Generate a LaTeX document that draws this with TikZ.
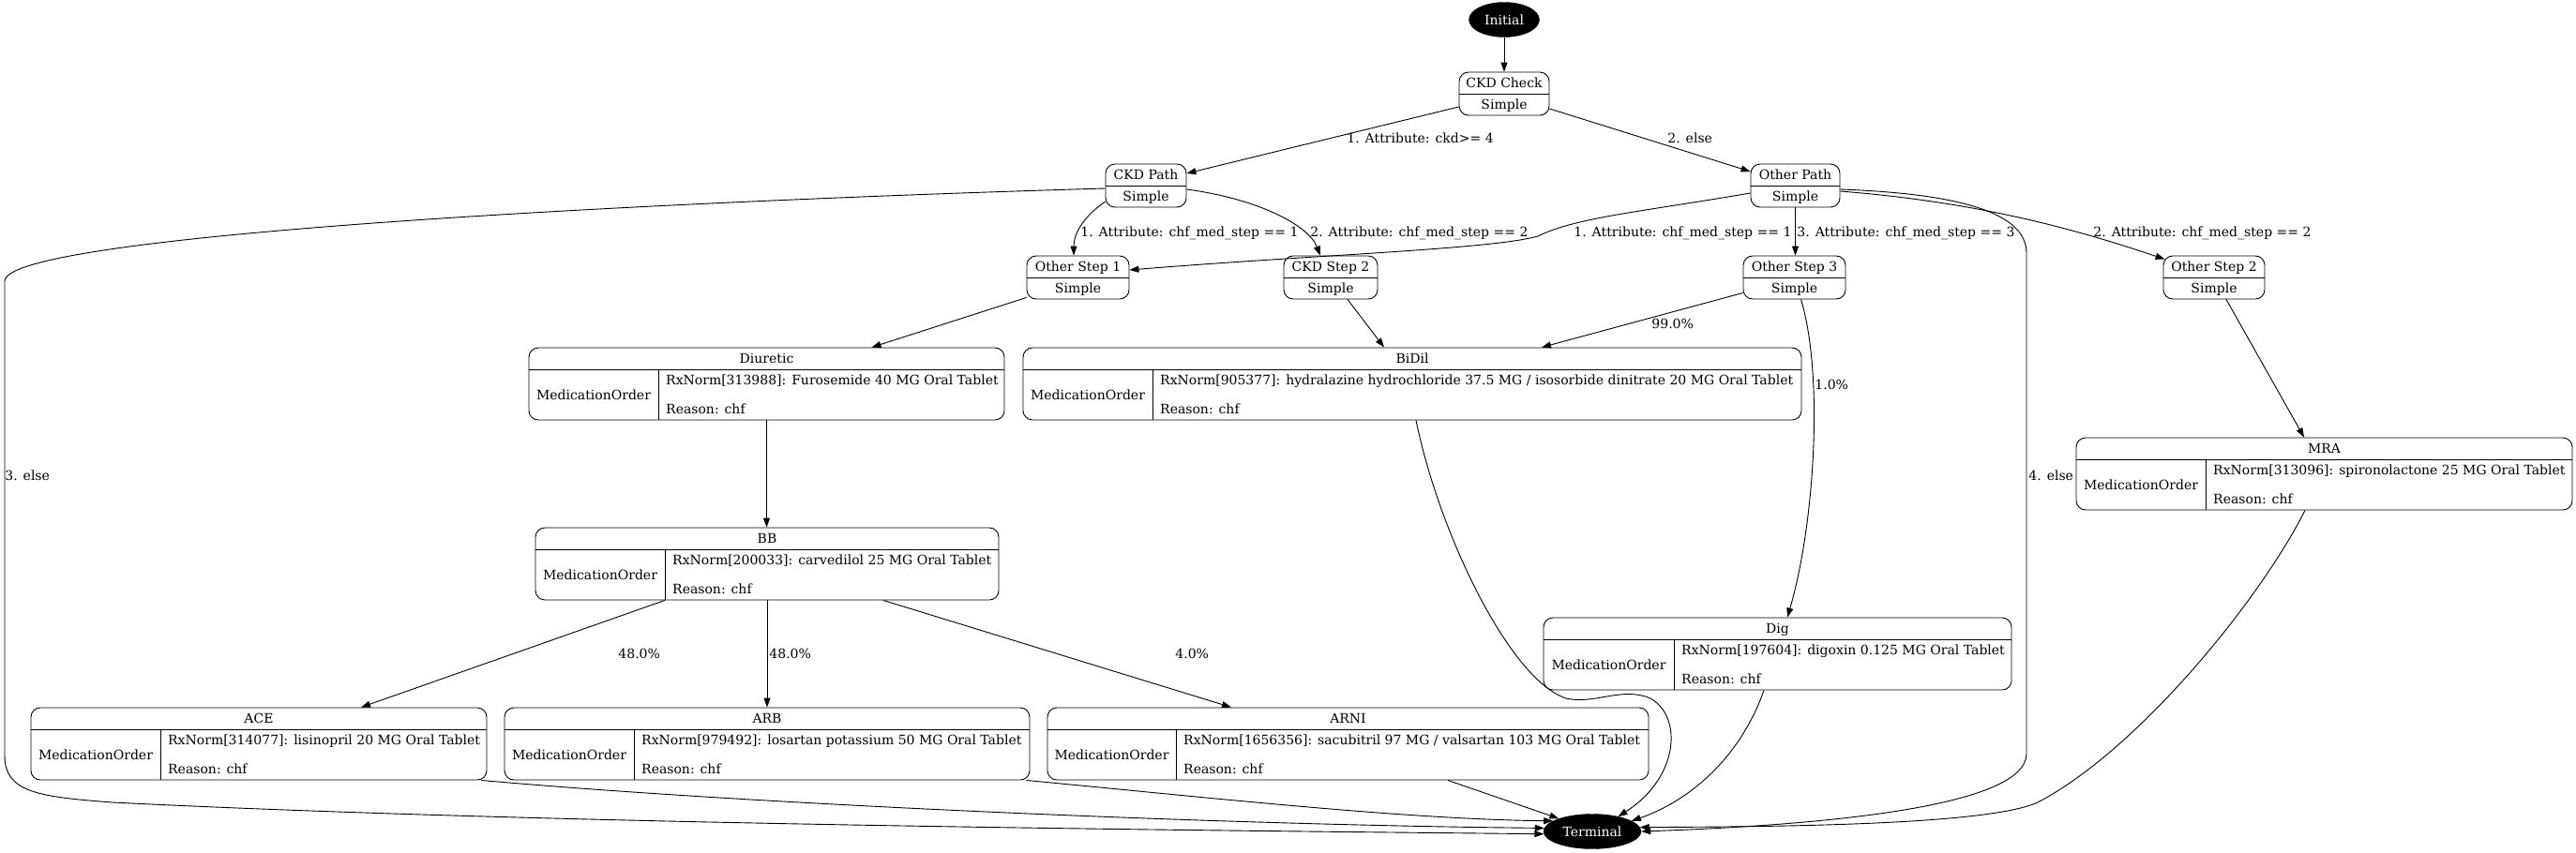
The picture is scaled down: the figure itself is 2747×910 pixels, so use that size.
\documentclass[tikz,border=0pt]{standalone}
\usepackage{fontspec}
\setmainfont{DejaVu Serif}
\usepackage{tikz}
\usetikzlibrary{arrows.meta,shapes.geometric}

% state with a "Simple" compartment
\newcommand{\simplestate}[6]{%
  \node[stbox, minimum width={#4-#2}, minimum height={#5-#3}] (#1) at ({(#2+#4)/2},{(#3+#5)/2}) {};
  \draw[line width=0.9pt] (#2,#3+23) -- (#4,#3+23);
  \node[txt] (#1-title) at ({(#2+#4)/2},#3+11.5) {#6};
  \node[txt] (#1-kind) at ({(#2+#4)/2},#3+34.5) {Simple};
}
% state with a MedicationOrder record
\newcommand{\medstate}[8]{%
  \node[stbox, minimum width={#4-#2}, minimum height={#5-#3}] (#1) at ({(#2+#4)/2},{(#3+#5)/2}) {};
  \draw[line width=0.9pt] (#2,#3+23) -- (#4,#3+23) (#6,#3+23) -- (#6,#5);
  \node[txt] (#1-title) at ({(#2+#4)/2},#3+11.5) {#7};
  \node[txt] (#1-type) at ({(#2+#6)/2},{(#3+23+#5)/2}) {MedicationOrder};
  \node[txt, anchor=west] (#1-code) at (#6+8,#3+34) {#8};
  \node[txt, anchor=west] (#1-reason) at (#6+8,#5-12) {Reason: chf};
}

\begin{document}
\begin{tikzpicture}[x=1pt, y=-1pt]
\tikzstyle{txt}=[inner sep=0pt, text height=10pt, text depth=0pt, font=\fontsize{14}{17}\selectfont]
\tikzstyle{stbox}=[draw, line width=0.9pt, rectangle, rounded corners=10pt, inner sep=0pt]
\tikzstyle{endpt}=[txt, draw, fill=black, ellipse, text=white]
\tikzstyle{flow}=[-{Triangle[length=10pt,width=7pt]}, line width=0.9pt]
\tikzstyle{lbl}=[txt, anchor=west]
\useasboundingbox (0,0) rectangle (2747,910);
% start and end
\node[endpt, minimum width=75pt, minimum height=37pt] (init) at (1604,21) {Initial};
\node[endpt, minimum width=104pt, minimum height=37pt] (term) at (1698,887) {Terminal};
% decision states
\simplestate{ckdcheck}{1556}{77}{1652}{123}{CKD Check}
\simplestate{ckdpath}{1179}{175}{1265}{221}{CKD Path}
\simplestate{otherpath}{1867}{175}{1962}{221}{Other Path}
\simplestate{otherstep1}{1095}{273}{1204}{319}{Other Step 1}
\simplestate{ckdstep2}{1369}{273}{1469}{319}{CKD Step 2}
\simplestate{otherstep3}{1859}{273}{1968}{319}{Other Step 3}
\simplestate{otherstep2}{2307}{273}{2415}{319}{Other Step 2}
% medication orders
\medstate{diuretic}{564}{371}{1071}{448}{702}{Diuretic}{RxNorm[313988]: Furosemide 40 MG Oral Tablet}
\medstate{bidil}{1091}{371}{1921}{448}{1229}{BiDil}{RxNorm[905377]: hydralazine hydrochloride 37.5 MG / isosorbide dinitrate 20 MG Oral Tablet}
\medstate{mra}{2214}{467}{2743}{544}{2352}{MRA}{RxNorm[313096]: spironolactone 25 MG Oral Tablet}
\medstate{bb}{571}{563}{1065}{640}{709}{BB}{RxNorm[200033]: carvedilol 25 MG Oral Tablet}
\medstate{dig}{1646}{659}{2145}{736}{1785}{Dig}{RxNorm[197604]: digoxin 0.125 MG Oral Tablet}
\medstate{ace}{33}{755}{519}{832}{171}{ACE}{RxNorm[314077]: lisinopril 20 MG Oral Tablet}
\medstate{arb}{538}{755}{1098}{832}{676}{ARB}{RxNorm[979492]: losartan potassium 50 MG Oral Tablet}
\medstate{arni}{1117}{755}{1758}{832}{1254}{ARNI}{RxNorm[1656356]: sacubitril 97 MG / valsartan 103 MG Oral Tablet}
% upper transitions
\draw[flow] (init.south) -- (ckdcheck.north);
\draw[flow] ([shift={(0,14)}]ckdcheck.west) -- ([shift={(0,-13)}]ckdpath.east)
  node[lbl] at (1436,147) {1. Attribute: ckd>= 4};
\draw[flow] ([shift={(0,16)}]ckdcheck.east) -- ([shift={(0,-15)}]otherpath.west)
  node[lbl] at (1778,147) {2. else};
\draw[flow] ([shift={(0,17)}]ckdpath.west) .. controls +(-24,17) and +(0,-23) .. ([xshift=-4.5pt]otherstep1.north)
  node[lbl] at (1152,247) {1. Attribute: chf\_med\_step == 1};
\draw[flow] ([shift={(0,4)}]ckdpath.east) .. controls +(75,10) and +(-13,-33) .. ([xshift=-11pt]ckdstep2.north)
  node[lbl] at (1397,247) {2. Attribute: chf\_med\_step == 2};
\draw[flow] ([shift={(0,3)}]ckdpath.west) .. controls (700,215) and (5,250) .. (5,300) -- (5,806)
  .. controls (5,845) and (40,850) .. (120,856) .. controls (600,880) and (1300,886) .. (term.183)
  node[lbl] at (5,507) {3. else};
\draw[flow] ([shift={(0,8)}]otherpath.west) .. controls (1750,226) and (1680,232) .. (1640,252)
  .. controls (1590,266) and (1400,272) .. ([shift={(0,-8)}]otherstep1.east)
  node[lbl] at (1678,247) {1. Attribute: chf\_med\_step == 1};
\draw[flow] (otherpath.south) -- (otherpath.south |- otherstep3.north)
  node[lbl] at (1916,247) {3. Attribute: chf\_med\_step == 3};
\draw[flow] ([shift={(0,6)}]otherpath.east) .. controls (2100,215) and (2200,240) .. ([shift={(2,4)}]otherstep2.north west)
  node[lbl] at (2232,247) {2. Attribute: chf\_med\_step == 2};
\draw[flow] ([shift={(0,4)}]otherpath.east) .. controls (2100,207) and (2161,230) .. (2161,270) -- (2161,804)
  .. controls (2161,860) and (1950,880) .. (term.0)
  node[lbl] at (2163,507) {4. else};
% into the medication orders
\draw[flow] ([shift={(0,-2)}]otherstep1.south west) -- ([xshift=112pt]diuretic.north);
\draw[flow] ([xshift=18pt]ckdstep2.south) -- ([xshift=-30pt]bidil.north);
\draw[flow] ([shift={(0,-7)}]otherstep3.south west) -- ([xshift=138pt]bidil.north)
  node[lbl] at (1761,345) {99.0\%};
\draw[flow] ([xshift=7pt]otherstep3.south) .. controls (1945,400) and (1935,560) .. ([xshift=10.5pt]dig.north)
  node[lbl] at (1935,410) {1.0\%};
\draw[flow] ([xshift=13pt]otherstep2.south) -- ([xshift=-21.5pt]mra.north);
\draw[flow] (diuretic.south) -- (diuretic.south |- bb.north);
\draw[flow] ([xshift=-109pt]bb.south) -- ([xshift=109pt]ace.north)
  node[lbl] at (659,697) {48.0\%};
\draw[flow] (bb.south) -- (bb.south |- arb.north)
  node[lbl] at (820,697) {48.0\%};
\draw[flow] ([xshift=124pt]bb.south) -- ([xshift=-124.5pt]arni.north)
  node[lbl] at (1253,697) {4.0\%};
% into terminal
\draw[flow] ([xshift=4pt]bidil.south) .. controls (1535,570) and (1610,725) .. (1670,745)
  .. controls (1700,752) and (1730,732) .. (1760,745) .. controls (1795,765) and (1790,830) .. (term.30);
\draw[flow] ([xshift=-14.5pt]dig.south) .. controls (1855,810) and (1800,855) .. (term.15);
\draw[flow] ([xshift=-20.5pt]mra.south) .. controls (2410,640) and (2280,800) .. (2173,856)
  .. controls (2120,880) and (1900,882) .. (term.5);
\draw[flow] ([xshift=-6pt]ace.south east) .. controls (800,858) and (1300,880) .. (term.176);
\draw[flow] ([xshift=-4pt]arb.south east) .. controls (1300,852) and (1500,874) .. (term.165);
\draw[flow] ([xshift=106.5pt]arni.south) -- (term.159);
\end{tikzpicture}
\end{document}
